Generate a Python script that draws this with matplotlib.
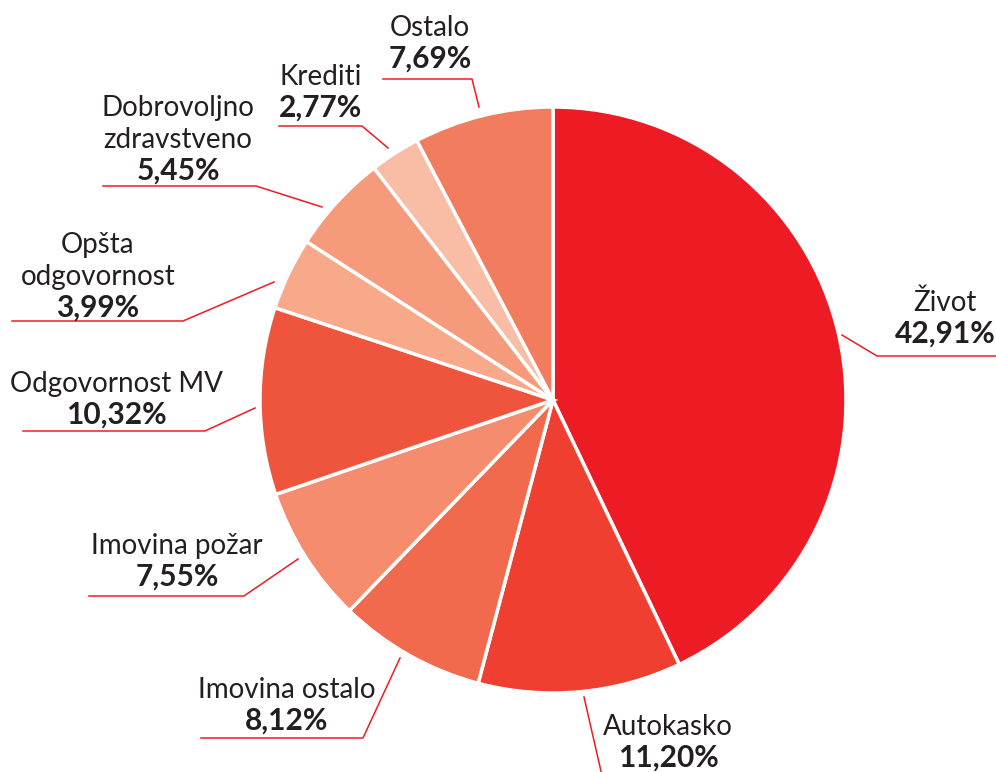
# -----------------------
# Imports
# -----------------------
import matplotlib
matplotlib.use("Agg")
import matplotlib.pyplot as plt

# -----------------------
# Data
# -----------------------
labels = ['Život', 'Autokasko', 'Imovina ostalo', 'Imovina požar', 'Odgovornost MV',
          'Opšta\nodgovornost', 'Dobrovoljno\nzdravstveno', 'Krediti', 'Ostalo']
shares = [42.91, 11.20, 8.12, 7.55, 10.32, 3.99, 5.45, 2.77, 7.69]
colors = ['#ED1C24', '#EE3F30', '#F16A4E', '#F48C6D', '#EF553D',
          '#F8A98A', '#F59B7C', '#F9BCA5', '#F27C5E']

# label layout in pixels: (centre x, baseline of percent line)
label_pos = [(945, 343), (668, 767), (287, 730), (177, 586), (116, 424),
             (98, 317), (178, 180), (321, 117), (430, 68)]
# leader lines: start on pie, elbow, end
leaders = [
    [(842, 335), (877, 356), (1000, 356)],
    [(584, 697), (603, 780)],
    [(400, 658), (363, 738), (201, 738)],
    [(298, 559), (244, 596), (89, 596)],
    [(255, 408), (205, 431), (23, 431)],
    [(274, 282), (183, 321), (12, 321)],
    [(322, 207), (256, 186), (103, 186)],
    [(388, 148), (362, 126), (279, 126)],
    [(479, 107), (472, 79), (383, 79)],
]

W, H = 996, 772
cx, cy, r = 553, 400, 293
font = 'Lato'
txt_color = '#231F20'
line_step = 32

fig = plt.figure(figsize=(W / 100, H / 100), dpi=100)

# -----------------------
# Pie
# -----------------------
ax = fig.add_axes([(cx - r) / W, (H - cy - r) / H, 2 * r / W, 2 * r / H])
ax.pie(shares, colors=colors, startangle=90, counterclock=False, radius=1,
       wedgeprops=dict(edgecolor='white', linewidth=2.5))
ax.set_xlim(-1, 1)
ax.set_ylim(-1, 1)
ax.set_aspect('equal')
ax.axis('off')

# -----------------------
# Labels and leader lines (pixel coords)
# -----------------------
ov = fig.add_axes([0, 0, 1, 1])
ov.set_xlim(0, W)
ov.set_ylim(H, 0)
ov.axis('off')
ov.patch.set_alpha(0)

for name, val, (x, yb), pts in zip(labels, shares, label_pos, leaders):
    xs = [p[0] for p in pts]
    ys = [p[1] for p in pts]
    ov.plot(xs, ys, color='#ED1C24', lw=1.1, clip_on=False)
    pct = f"{val:.2f}".replace('.', ',') + '%'
    ov.text(x, yb, pct, ha='center', va='baseline', fontsize=21.5,
            fontweight='bold', family=font, color=txt_color)
    lines = name.split('\n')
    for k, ln in enumerate(reversed(lines)):
        ov.text(x, yb - line_step * (k + 1), ln, ha='center', va='baseline',
                fontsize=20, family=font, color=txt_color)

fig.savefig('out.png', dpi=100)
